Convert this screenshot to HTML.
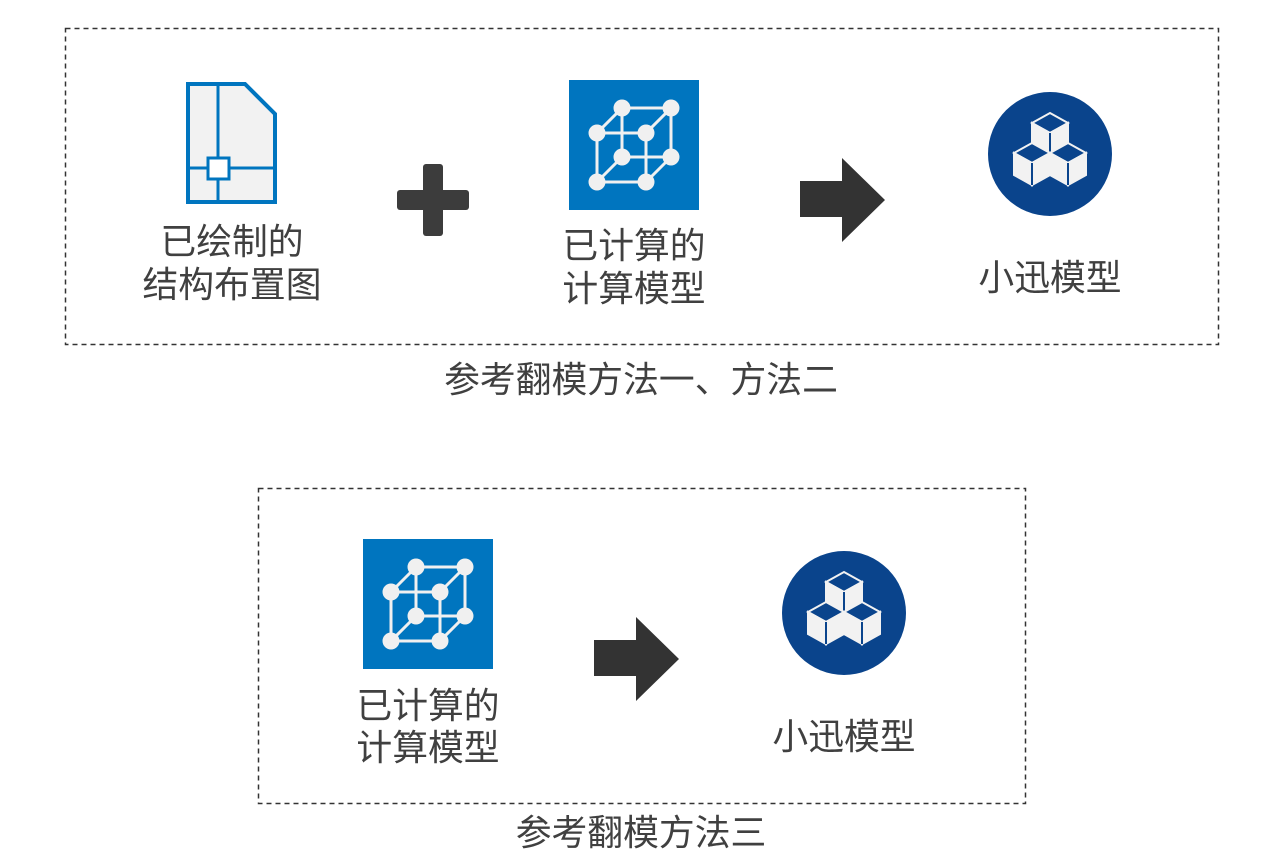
<!DOCTYPE html>
<html><head><meta charset="utf-8"><style>
html,body{margin:0;padding:0;background:#fff;}
svg text{font-family:"Liberation Sans","Noto Sans CJK SC",sans-serif;font-size:35.8px;fill:#404040;text-anchor:middle;}
</style></head><body>
<svg width="1282" height="863" viewBox="0 0 1282 863" xmlns="http://www.w3.org/2000/svg">
<defs>
<g id="cube">
  <rect x="0" y="0" width="130" height="130" fill="#0075bf"/>
  <g stroke="#f0f0f0" stroke-width="3" fill="none">
    <path d="M53 28 H102 V77 H53 Z"/>
    <path d="M28 53 H77 V102 H28 Z"/>
    <path d="M28 53 L53 28 M77 53 L102 28 M77 102 L102 77 M28 102 L53 77"/>
  </g>
  <g fill="#f0f0f0">
    <circle cx="53" cy="28" r="8.5"/><circle cx="102" cy="28" r="8.5"/>
    <circle cx="28" cy="53" r="8.5"/><circle cx="77" cy="53" r="8.5"/>
    <circle cx="53" cy="77" r="8.5"/><circle cx="102" cy="77" r="8.5"/>
    <circle cx="28" cy="102" r="8.5"/><circle cx="77" cy="102" r="8.5"/>
  </g>
</g>
<g id="blk">
  <polygon points="0,-10 18,0 0,10 -18,0" fill="#0a448c" stroke="#f2f2f2" stroke-width="2"/>
  <polygon points="-18,0 0,10 0,32 -18,22" fill="#f2f2f2" stroke="#f2f2f2" stroke-width="2"/>
  <polygon points="18,0 0,10 0,32 18,22" fill="#f2f2f2" stroke="#f2f2f2" stroke-width="2"/>
  <path d="M0 10 V32" stroke="#0a448c" stroke-width="2"/>
</g>
<g id="circ">
  <circle cx="0" cy="0" r="62" fill="#0a448c"/>
  <use href="#blk" x="0" y="-31"/>
  <use href="#blk" x="-18" y="-1"/>
  <use href="#blk" x="18" y="-1"/>
</g>
<polygon id="arr" points="0,23 42,23 42,0 85,42 42,84 42,59 0,59" fill="#333"/>
</defs>

<rect x="65.5" y="28.5" width="1153" height="316" fill="none" stroke="#333" stroke-width="1.5" stroke-dasharray="5,4"/>
<rect x="258.5" y="488.5" width="767" height="315" fill="none" stroke="#333" stroke-width="1.5" stroke-dasharray="5,4"/>

<path d="M188 84 H245 L275 114 V202 H188 Z" fill="#f2f2f2" stroke="#0075bf" stroke-width="4"/>
<path d="M218 84 V202 M188 168 H275" stroke="#0075bf" stroke-width="3"/>
<rect x="208" y="158" width="21" height="21" fill="#fff" stroke="#0075bf" stroke-width="3"/>

<rect x="423" y="164" width="20" height="72" rx="3" fill="#3c3c3c"/>
<rect x="397" y="190" width="72" height="20" rx="3" fill="#3c3c3c"/>

<use href="#cube" x="569" y="80"/>
<use href="#arr" x="800" y="158"/>
<use href="#circ" x="1050" y="154"/>

<text x="232" y="254">已绘制的</text>
<text x="232" y="297">结构布置图</text>
<text x="634" y="258">已计算的</text>
<text x="634" y="301">计算模型</text>
<text x="1050" y="290">小迅模型</text>
<text x="641" y="392">参考翻模方法一、方法二</text>

<use href="#cube" x="363" y="539"/>
<use href="#arr" x="594" y="617"/>
<use href="#circ" x="844" y="613"/>

<text x="428" y="718">已计算的</text>
<text x="428" y="760">计算模型</text>
<text x="844" y="749">小迅模型</text>
<text x="641" y="845">参考翻模方法三</text>
</svg>
</body></html>
